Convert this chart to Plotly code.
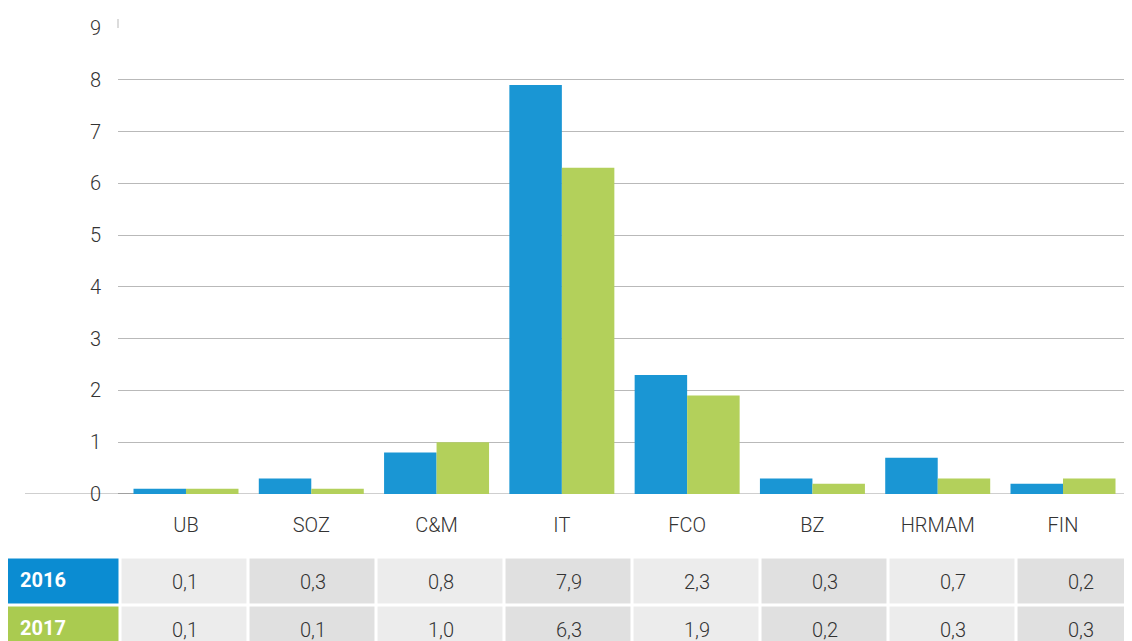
import plotly.graph_objects as go

categories = ["UB", "SOZ", "C&M", "IT", "FCO", "BZ", "HRMAM", "FIN"]
values_2016 = [0.1, 0.3, 0.8, 7.9, 2.3, 0.3, 0.7, 0.2]
values_2017 = [0.1, 0.1, 1.0, 6.3, 1.9, 0.2, 0.3, 0.3]
series_names = ["2016", "2017"]
y_ticks = list(range(0, 10))

BLUE = "#1a96d4"
GREEN = "#b3d05b"
BLUE_H = "#0b8cd2"
GREEN_H = "#aacb50"
LIGHT = "#ececec"
DARK = "#e0e0e0"
TEXT = "#333333"
FONT = "Roboto"

W, H = 1132, 641
OFF = 8  # page body margin: figure is drawn 8px in from the window corner


def px(wx):
    return (wx - OFF) / W


def py(wy):
    return 1 - (wy - OFF) / H


def fmt(v):
    return f"{v:.1f}".replace(".", ",")


fig = go.Figure()
fig.add_trace(go.Bar(x=categories, y=values_2016, name=series_names[0],
                     marker=dict(color=BLUE, line=dict(width=0)), hoverinfo="x+y"))
fig.add_trace(go.Bar(x=categories, y=values_2017, name=series_names[1],
                     marker=dict(color=GREEN, line=dict(width=0)), hoverinfo="x+y"))

# ---- table under the chart, drawn as heatmaps on its own axes (units: window px)
n = len(categories)
rows = [values_2016, values_2017]
ROW_TOP, ROW_H = 557.5, 48
COL0, COL_W = 120.5, 128
HDR_L = 5.5
row_y = [ROW_TOP + ROW_H * (r + 0.5) for r in range(len(rows))]
col_x = [COL0 + COL_W * (k + 0.5) for k in range(n)]

fig.add_trace(go.Heatmap(
    x=col_x, y=row_y,
    z=[[k % 2 for k in range(n)] for _ in rows],
    text=[[fmt(v) for v in row] for row in rows],
    texttemplate="%{text}",
    textfont=dict(family=FONT, size=20, color=TEXT, weight=300),
    colorscale=[[0, LIGHT], [0.5, LIGHT], [0.5, DARK], [1, DARK]],
    zmin=0, zmax=1, showscale=False, xgap=3, ygap=3,
    hoverinfo="skip", xaxis="x2", yaxis="y2",
))
fig.add_trace(go.Heatmap(
    x0=(HDR_L + COL0) / 2, dx=COL0 - HDR_L, y=row_y,
    z=[[0], [1]],
    colorscale=[[0, BLUE_H], [0.5, BLUE_H], [0.5, GREEN_H], [1, GREEN_H]],
    zmin=0, zmax=1, showscale=False, xgap=3, ygap=3,
    hoverinfo="skip", xaxis="x2", yaxis="y2",
))
fig.add_trace(go.Scatter(
    x=[20, 20], y=row_y, mode="text",
    text=[f"<b>{s}</b>" for s in series_names],
    textposition="middle right",
    textfont=dict(family=FONT, size=20, color="white"),
    hoverinfo="skip", xaxis="x2", yaxis="y2",
))

fig.update_layout(
    width=W, height=H,
    margin=dict(l=0, r=0, t=0, b=0, autoexpand=False),
    paper_bgcolor="white", plot_bgcolor="white",
    showlegend=False,
    barmode="group",
    bargap=0.162, bargroupgap=0,
    font=dict(family=FONT, size=20, color=TEXT, weight=300),
    xaxis=dict(
        domain=[px(118), px(1132)],
        range=[-0.5427, 7.5507],
        showgrid=False, zeroline=False, showline=False,
        ticks="", ticklabelstandoff=17, automargin=False,
        tickfont=dict(family=FONT, size=20, color=TEXT, weight=300),
        fixedrange=True,
    ),
    yaxis=dict(
        domain=[py(494), py(28)],
        range=[0, 9],
        tickvals=y_ticks,
        ticktext=[str(t) for t in y_ticks],
        showgrid=True, gridcolor="#b9b9b9", gridwidth=1,
        zeroline=False, showline=False, ticks="",
        ticklabelstandoff=16, automargin=False,
        tickfont=dict(family=FONT, size=20, color=TEXT, weight=300),
        fixedrange=True,
    ),
    xaxis2=dict(domain=[0, 1], range=[OFF, OFF + W], visible=False,
                anchor="y2", fixedrange=True, automargin=False),
    yaxis2=dict(domain=[0, py(555)], range=[OFF + H, 555], visible=False,
                anchor="x2", fixedrange=True, automargin=False),
    shapes=[
        dict(type="line", xref="paper", yref="y", x0=px(25), x1=1, y0=0, y1=0,
             line=dict(color="#cfcfcf", width=2), layer="below"),
        dict(type="line", xref="paper", yref="y", x0=px(118), x1=px(143), y0=0, y1=0,
             line=dict(color="#a0a0a0", width=2), layer="below"),
        dict(type="line", xref="paper", yref="paper", x0=px(118), x1=px(118),
             y0=py(28), y1=py(19),
             line=dict(color="#b9b9b9", width=1)),
    ],
)

fig.write_html("out.html")
